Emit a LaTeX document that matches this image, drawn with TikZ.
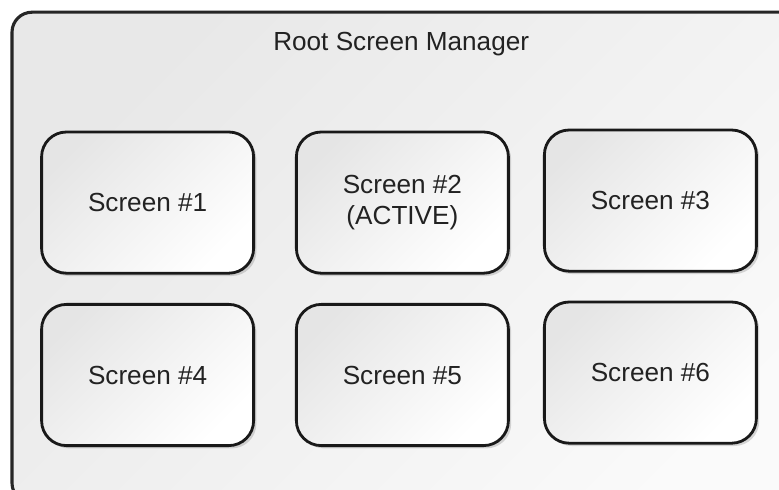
\documentclass[tikz,border=0pt]{standalone}
\usepackage{fontspec}
\setmainfont{Liberation Sans}
\usetikzlibrary{shadows}
\definecolor{inkgray}{HTML}{222222}
\tikzset{
  frame/.style={draw=black!85, line width=2.2pt, rounded corners=0.5cm, top color=black!9, bottom color=black!2, shading angle=45},
  screen/.style={draw=black!90, line width=2pt, rounded corners=0.62cm, minimum width=5.3cm, minimum height=3.53cm,
    align=center, text=inkgray, font=\fontsize{18.6}{22}\selectfont,
    top color=black!10, bottom color=white, shading angle=45,
    drop shadow={shadow xshift=2pt, shadow yshift=-2pt, opacity=0.25, fill=black!60}},
  title/.style={text=inkgray, font=\fontsize{18.6}{22}\selectfont},
}

\begin{document}
\begin{tikzpicture}
    \useasboundingbox (0,0) rectangle (19.475,12.225);
    \path[frame] (0.30,-0.35) rectangle (21.00,11.92);
    \node[title] (root) at (10.03,11.12) {Root Screen Manager};
    \node[screen] (s1) at (3.69,7.16) {Screen \#1};
    \node[screen] (s2) at (10.06,7.16) {Screen \#2\\(ACTIVE)};
    \node[screen] (s3) at (16.26,7.21) {Screen \#3};
    \node[screen] (s4) at (3.69,2.85) {Screen \#4};
    \node[screen] (s5) at (10.06,2.85) {Screen \#5};
    \node[screen] (s6) at (16.26,2.91) {Screen \#6};
  \end{tikzpicture}
\end{document}
